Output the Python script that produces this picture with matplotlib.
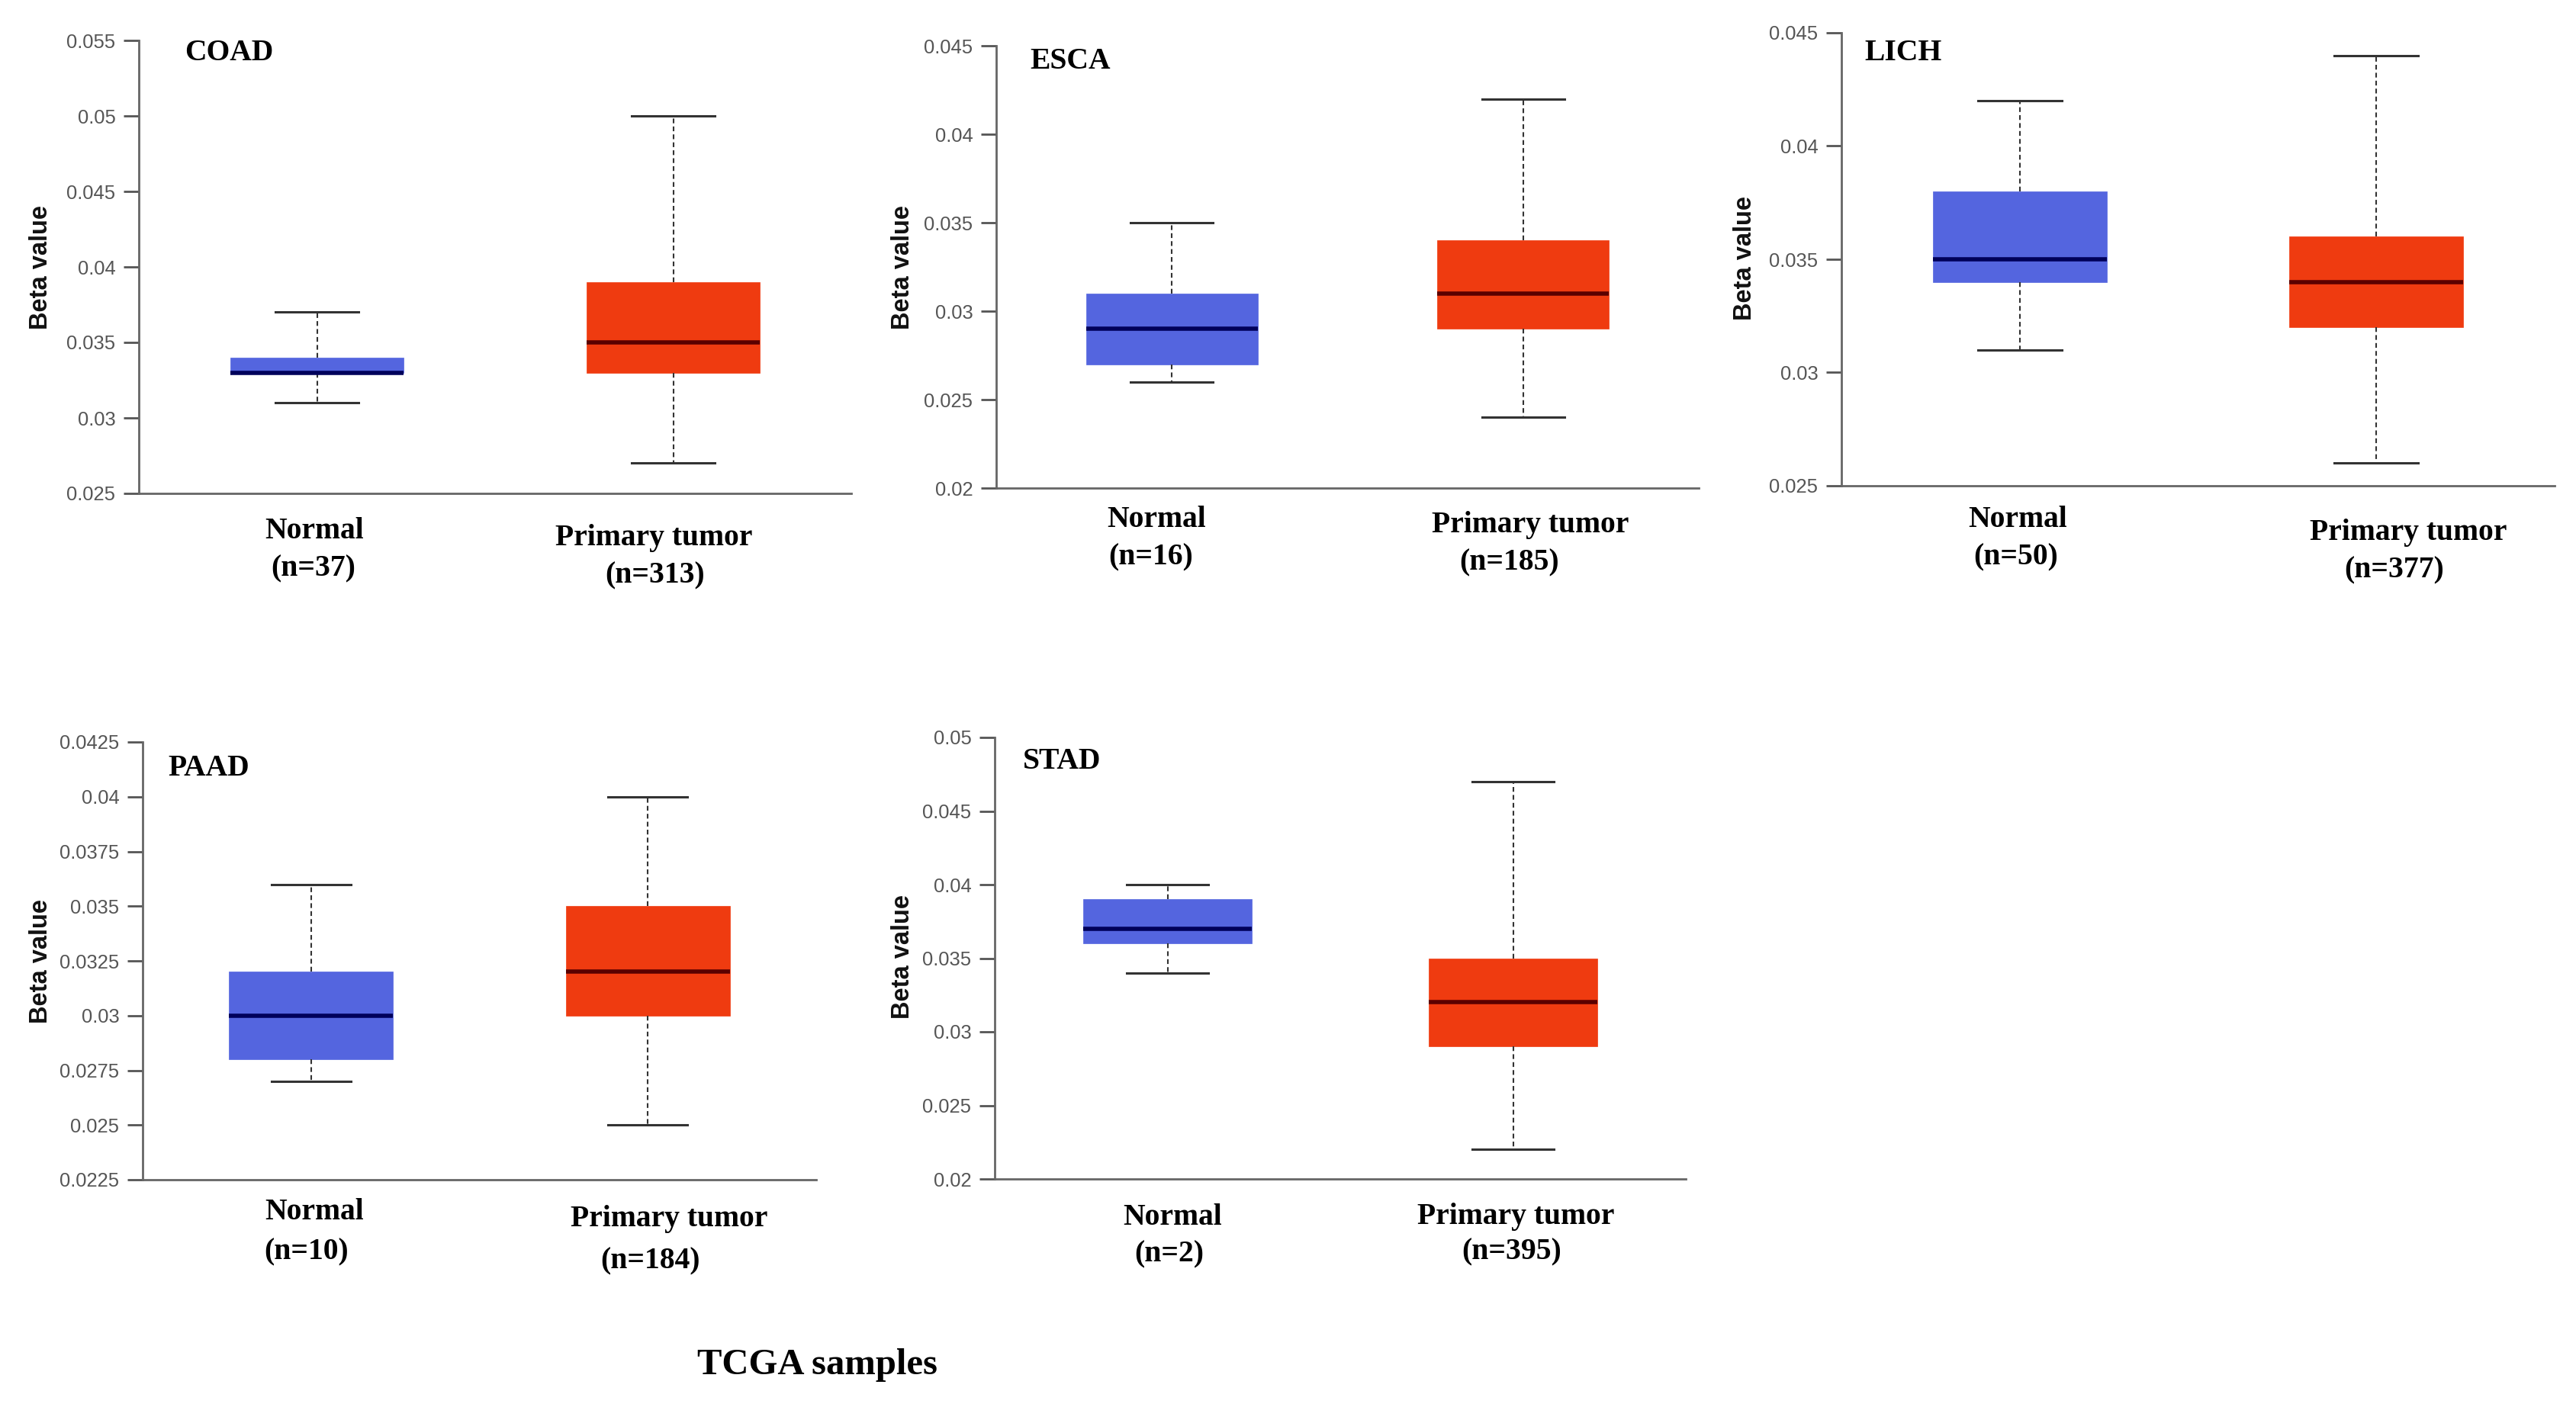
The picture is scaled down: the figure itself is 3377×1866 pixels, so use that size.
import matplotlib
matplotlib.use("Agg")
import matplotlib.pyplot as plt
import numpy as np

# figure size in pixels (dpi 100)
W, H = 3377, 1866

panels = ["COAD", "ESCA", "LICH", "PAAD", "STAD"]
groups = ["Normal", "Primary tumor"]

# box stats: whisker low, q1, median, q3, whisker high
normal_stats = [
    [0.031, 0.033, 0.033, 0.034, 0.037],
    [0.026, 0.027, 0.029, 0.031, 0.035],
    [0.031, 0.034, 0.035, 0.038, 0.042],
    [0.027, 0.028, 0.030, 0.032, 0.036],
    [0.034, 0.036, 0.037, 0.039, 0.040],
]
tumor_stats = [
    [0.027, 0.033, 0.035, 0.039, 0.050],
    [0.024, 0.029, 0.031, 0.034, 0.042],
    [0.026, 0.032, 0.034, 0.036, 0.044],
    [0.025, 0.030, 0.032, 0.035, 0.040],
    [0.022, 0.029, 0.032, 0.035, 0.047],
]
n_normal = [37, 16, 50, 10, 2]
n_tumor = [313, 185, 377, 184, 395]
ylims = [(0.025, 0.055), (0.02, 0.045), (0.025, 0.045), (0.0225, 0.0425), (0.02, 0.05)]
ysteps = [0.005, 0.005, 0.005, 0.0025, 0.005]

# layout, in pixels of the final image
axes_px = [  # left, top, right, bottom
    (182, 53, 1116, 647),
    (1306, 60, 2227, 640),
    (2414, 43, 3349, 637),
    (187, 973, 1070, 1547),
    (1304, 967, 2210, 1546),
]
title_px = [(242, 79), (1350, 90), (2444, 79), (220, 1017), (1341, 1008)]
ylabel_px = [(53, 350), (1183, 350), (2287, 339), (53, 1260), (1183, 1255)]
# (x, baseline) for group name and n= line
normal_px = [
    ((412, 706), (411, 755)),
    ((1516, 691), (1509, 740)),
    ((2645, 691), (2643, 740)),
    ((412, 1599), (402, 1651)),
    ((1537, 1606), (1533, 1654)),
]
tumor_px = [
    ((857, 715), (859, 764)),
    ((2006, 698), (1979, 747)),
    ((3157, 708), (3139, 757)),
    ((877, 1608), (852, 1663)),
    ((1987, 1605), (1982, 1651)),
]

blue = "#5465DF"
red = "#EF3B10"
blue_med = "#00005A"
red_med = "#5A0000"

serif = "Liberation Serif"
sans = "Liberation Sans"


def fx(x):
    return x / W


def fy(y):
    return 1 - y / H


fig = plt.figure(figsize=(W / 100, H / 100), dpi=100)
fig.patch.set_facecolor("white")

for i, name in enumerate(panels):
    l, t, r, b = axes_px[i]
    ax = fig.add_axes([fx(l), fy(b), (r - l) / W, (b - t) / H])

    stats = []
    for s in (normal_stats[i], tumor_stats[i]):
        stats.append(dict(whislo=s[0], q1=s[1], med=s[2], q3=s[3], whishi=s[4], fliers=[]))

    bp = ax.bxp(stats, [1, 3], widths=0.976, capwidths=0.47, patch_artist=True,
                showfliers=False, manage_ticks=False,
                whiskerprops=dict(color="#333333", linewidth=1.5, linestyle=(0, (3, 2))),
                capprops=dict(color="#333333", linewidth=2.2),
                medianprops=dict(linewidth=4))
    for patch, c in zip(bp["boxes"], [blue, red]):
        patch.set_facecolor(c)
        patch.set_edgecolor(c)
        patch.set_linewidth(0.5)
    for med, c in zip(bp["medians"], [blue_med, red_med]):
        med.set_color(c)

    lo, hi = ylims[i]
    nt = int(round((hi - lo) / ysteps[i]))
    ticks = np.linspace(lo, hi, nt + 1)
    ax.set_xlim(0, 4)
    ax.set_ylim(lo, hi)
    ax.set_yticks(ticks)
    ax.set_yticklabels(["%g" % round(v, 5) for v in ticks], family=sans)
    ax.set_xticks([])
    ax.tick_params(axis="y", length=14.4, width=2, color="#555555",
                   labelsize=18.4, labelcolor="#555555", pad=7.7)
    for side in ("top", "right"):
        ax.spines[side].set_visible(False)
    for side in ("left", "bottom"):
        ax.spines[side].set_color("#666666")
        ax.spines[side].set_linewidth(2)

    fig.text(fx(title_px[i][0]), fy(title_px[i][1]), name, family=serif,
             fontweight="bold", fontsize=28.5, ha="left", va="baseline")
    fig.text(fx(ylabel_px[i][0]), fy(ylabel_px[i][1]), "Beta value", family=sans,
             fontweight="bold", fontsize=23.5, rotation=90, ha="center", va="center",
             color="#111111")

    for (p1, p2), g, n in [(normal_px[i], groups[0], n_normal[i]),
                           (tumor_px[i], groups[1], n_tumor[i])]:
        fig.text(fx(p1[0]), fy(p1[1]), g, family=serif, fontweight="bold",
                 fontsize=28.5, ha="center", va="baseline")
        fig.text(fx(p2[0]), fy(p2[1]), "(n=%d)" % n, family=serif, fontweight="bold",
                 fontsize=28.5, ha="center", va="baseline")

fig.text(fx(1071), fy(1802), "TCGA samples", family=serif, fontweight="bold",
         fontsize=35, ha="center", va="baseline")

fig.savefig("out.png", dpi=100, facecolor="white")
